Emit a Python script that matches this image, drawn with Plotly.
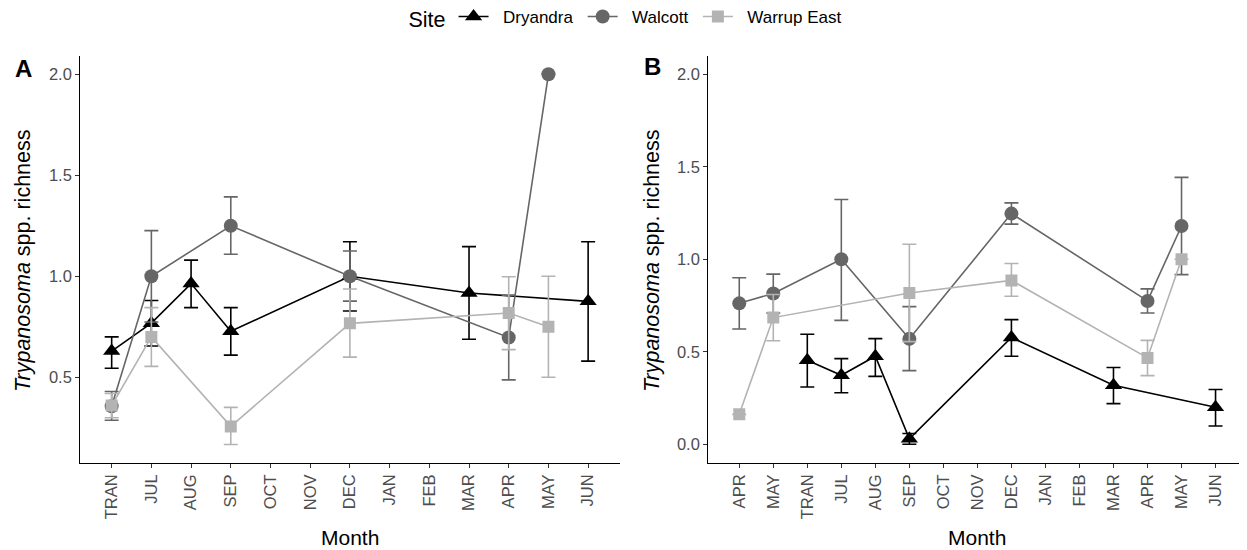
import plotly.graph_objects as go

# ---------------- data ----------------
months_a = ["TRAN", "JUL", "AUG", "SEP", "OCT", "NOV", "DEC", "JAN", "FEB", "MAR", "APR", "MAY", "JUN"]
months_b = ["APR", "MAY", "TRAN", "JUL", "AUG", "SEP", "OCT", "NOV", "DEC", "JAN", "FEB", "MAR", "APR", "MAY", "JUN"]

# Panel A
dry_a = [0.63, 0.768, 0.964, 0.728, None, None, 1.0, None, None, 0.917, None, None, 0.876]
dry_a_hi = [0.70, 0.88, 1.08, 0.845, None, None, 1.171, None, None, 1.147, None, None, 1.171]
dry_a_lo = [0.545, 0.655, 0.845, 0.61, None, None, 0.828, None, None, 0.688, None, None, 0.58]

wal_a = [0.357, 1.0, None, 1.25, None, None, 1.0, None, None, None, 0.697, 2.0, None]
wal_a_hi = [0.43, 1.226, None, 1.393, None, None, 1.125, None, None, None, 0.907, 2.0, None]
wal_a_lo = [0.287, 0.774, None, 1.109, None, None, 0.877, None, None, None, 0.487, 2.0, None]

war_a = [0.36, 0.70, None, 0.257, None, None, 0.767, None, None, None, 0.818, 0.75, None]
war_a_hi = [0.42, 0.845, None, 0.351, None, None, 0.937, None, None, None, 0.998, 1.0, None]
war_a_lo = [0.30, 0.554, None, 0.167, None, None, 0.60, None, None, None, 0.637, 0.5, None]

# Panel B
dry_b = [None, None, 0.454, 0.373, 0.476, 0.03, None, None, 0.577, None, None, 0.319, None, None, 0.20]
dry_b_hi = [None, None, 0.595, 0.463, 0.571, 0.058, None, None, 0.674, None, None, 0.415, None, None, 0.296]
dry_b_lo = [None, None, 0.31, 0.279, 0.367, 0.0, None, None, 0.476, None, None, 0.22, None, None, 0.099]

wal_b = [0.762, 0.815, None, 1.0, None, 0.57, None, None, 1.247, None, None, None, 0.775, 1.18, None]
wal_b_hi = [0.90, 0.92, None, 1.323, None, 0.744, None, None, 1.305, None, None, None, 0.84, 1.443, None]
wal_b_lo = [0.623, 0.71, None, 0.67, None, 0.398, None, None, 1.19, None, None, None, 0.71, 0.917, None]

war_b = [0.162, 0.685, None, None, None, 0.818, None, None, 0.886, None, None, None, 0.467, 1.0, None]
war_b_hi = [0.162, 0.81, None, None, None, 1.081, None, None, 0.977, None, None, None, 0.562, 1.0, None]
war_b_lo = [0.162, 0.56, None, None, None, 0.555, None, None, 0.80, None, None, None, 0.371, 1.0, None]

sites = ["Dryandra", "Walcott", "Warrup East"]
colors = {"Dryandra": "#000000", "Walcott": "#666666", "Warrup East": "#b3b3b3"}
symbols = {"Dryandra": "triangle-up", "Walcott": "circle", "Warrup East": "square"}
msizes = {"Dryandra": 15, "Walcott": 14, "Warrup East": 12}

FONT = "Liberation Sans, Arial, sans-serif"

# page body has an 8px margin; lay things out in window pixels
OFF = 8
W, H = 1247 - OFF, 550 - OFF


def px(x):
    return (x - OFF) / W


def py(y):
    return (H - (y - OFF)) / H


fig = go.Figure()


def add_series(name, vals, hi, lo, xa, ya, show):
    xs, ys, up, dn = [], [], [], []
    for i, v in enumerate(vals):
        if v is None:
            continue
        xs.append(i)
        ys.append(v)
        up.append(hi[i] - v)
        dn.append(v - lo[i])
    has_err = any(u > 1e-9 or d > 1e-9 for u, d in zip(up, dn))
    fig.add_trace(go.Scatter(
        x=xs, y=ys, mode="lines+markers", name="\u00a0\u00a0" + name + "\u00a0", legendgroup=name,
        showlegend=show, xaxis=xa, yaxis=ya,
        line=dict(color=colors[name], width=1.6),
        marker=dict(symbol=symbols[name], size=msizes[name], color=colors[name]),
        error_y=dict(type="data", array=[u if u > 1e-9 else None for u in up],
                     arrayminus=[d if d > 1e-9 else None for d in dn],
                     color=colors[name], thickness=1.6, width=7, visible=has_err),
        hoverinfo="x+y",
    ))


add_series("Dryandra", dry_a, dry_a_hi, dry_a_lo, "x", "y", True)
add_series("Walcott", wal_a, wal_a_hi, wal_a_lo, "x", "y", True)
add_series("Warrup East", war_a, war_a_hi, war_a_lo, "x", "y", True)
add_series("Dryandra", dry_b, dry_b_hi, dry_b_lo, "x2", "y2", False)
add_series("Walcott", wal_b, wal_b_hi, wal_b_lo, "x2", "y2", False)
add_series("Warrup East", war_b, war_b_hi, war_b_lo, "x2", "y2", False)

ydom = [py(462.7), py(56)]

axis_common = dict(
    showline=True, linecolor="black", linewidth=1.3, mirror=False,
    ticks="outside", ticklen=4, tickwidth=1.1, tickcolor="#333333",
    showgrid=False, zeroline=False,
    tickfont=dict(family=FONT, size=16.5, color="#4d4d4d"),
)

fig.update_layout(
    width=W, height=H,
    margin=dict(l=0, r=0, t=0, b=0, autoexpand=False),
    plot_bgcolor="white", paper_bgcolor="white",
    font=dict(family=FONT),
    xaxis=dict(domain=[px(80.3), px(619.5)], range=[-0.79, 12.79], anchor="y",
               tickmode="array", tickvals=list(range(len(months_a))), ticktext=months_a,
               tickangle=-90, **axis_common),
    yaxis=dict(domain=ydom, range=[0.0772, 2.0906], anchor="x",
               tickmode="array", tickvals=[0.5, 1.0, 1.5, 2.0], tickformat=".1f", **axis_common),
    xaxis2=dict(domain=[px(708.3), px(1246.5)], range=[-0.91, 14.91], anchor="y2",
                tickmode="array", tickvals=list(range(len(months_b))), ticktext=months_b,
                tickangle=-90, **axis_common),
    yaxis2=dict(domain=ydom, range=[-0.0995, 2.099], anchor="x2",
                tickmode="array", tickvals=[0.0, 0.5, 1.0, 1.5, 2.0], tickformat=".1f", **axis_common),
    legend=dict(orientation="h", x=px(629), xanchor="center", y=1 + 9 / H, yanchor="top",
                title=dict(text="Site", font=dict(family=FONT, size=21.5, color="black")),
                font=dict(family=FONT, size=17, color="black"),
                bgcolor="rgba(0,0,0,0)"),
    showlegend=True,
)

ytitle = "<i>Trypanosoma</i> spp. richness"
annos = [
    dict(text="<b>A</b>", x=px(23), y=py(68.5), font=dict(size=24, color="black", family=FONT)),
    dict(text="<b>B</b>", x=px(652), y=py(67), font=dict(size=24, color="black", family=FONT)),
    dict(text=ytitle, x=px(23), y=py(261), textangle=-90, font=dict(size=21.5, color="black", family=FONT)),
    dict(text=ytitle, x=px(652), y=py(261), textangle=-90, font=dict(size=21.5, color="black", family=FONT)),
    dict(text="Month", x=px(350), y=py(537), font=dict(size=21, color="black", family=FONT)),
    dict(text="Month", x=px(977), y=py(537), font=dict(size=21, color="black", family=FONT)),
]
for a in annos:
    a.update(xref="paper", yref="paper", showarrow=False, xanchor="center", yanchor="middle")
fig.update_layout(annotations=annos)

fig.write_html("out.html")
